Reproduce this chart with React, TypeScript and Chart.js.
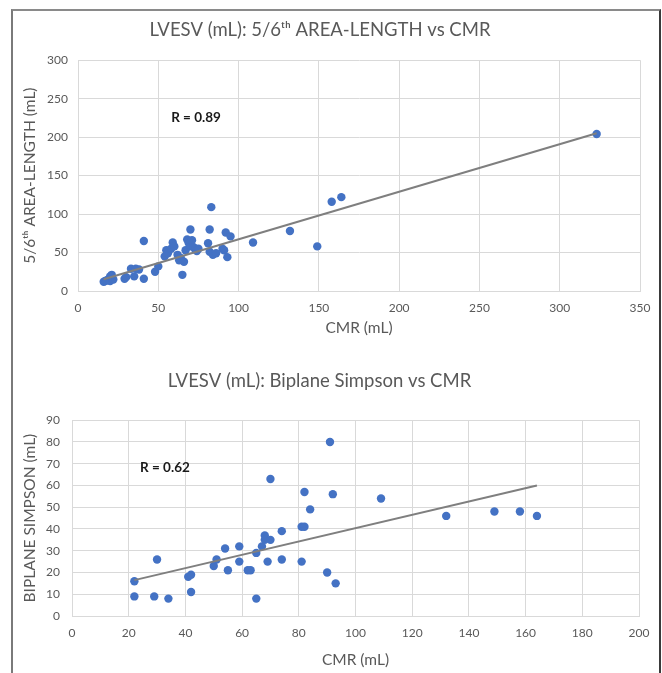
import React, { useEffect, useRef } from "react";
import { Chart, registerables } from "chart.js";

Chart.register(...registerables);

// LVESV by 5/6th area-length method vs CMR (mL)
const alCmr = [16, 17, 18, 19, 20, 21, 22, 21, 20, 29, 30, 33, 35, 38, 36, 41, 41, 48, 50, 54, 55, 56, 58, 59, 60, 62, 63, 64, 65, 66, 67, 68, 69, 70, 70, 71, 72, 73, 74, 75, 81, 82, 82, 83, 84, 86, 90, 91, 92, 93, 95, 109, 132, 149, 158, 164, 323];
const alEcho = [12, 13, 14, 15, 13, 17, 15, 21, 19, 16, 18, 29, 19, 28, 29, 16, 65, 25, 32, 45, 53, 49, 55, 63, 58, 47, 40, 43, 21, 38, 53, 67, 62, 80, 58, 66, 57, 54, 52, 55, 62, 80, 51, 109, 47, 49, 55, 53, 76, 44, 71, 63, 78, 58, 116, 122, 204];
const alTrendX = [16, 323];
const alTrendY = [15.3, 205];
const alR = "R = 0.89";

// LVESV by biplane Simpson method vs CMR (mL)
const bpCmr = [22, 22, 29, 30, 34, 41, 42, 42, 50, 51, 54, 55, 59, 59, 62, 63, 65, 65, 67, 68, 68, 70, 69, 70, 74, 74, 81, 82, 81, 82, 84, 90, 91, 92, 93, 109, 132, 149, 158, 164];
const bpEcho = [16, 9, 9, 26, 8, 18, 19, 11, 23, 26, 31, 21, 32, 25, 21, 21, 29, 8, 32, 37, 35, 35, 25, 63, 39, 26, 41, 41, 25, 57, 49, 20, 80, 56, 15, 54, 46, 48, 48, 46];
const bpTrendX = [22, 164];
const bpTrendY = [16.5, 60];
const bpR = "R = 0.62";

const FONT = "Lato, 'Open Sans', sans-serif";
const GREY_TEXT = "#595959";
const GRID = "#d9d9d9";
const DOT = "#4472C4";
const TREND = "#7f7f7f";

const zip = (xs: number[], ys: number[]) => xs.map((x, i) => ({ x, y: ys[i] }));

// Writes the correlation coefficient inside the plot at a data position
const rLabelPlugin = {
  id: "rLabel",
  afterDatasetsDraw(chart: any, _args: any, opts: any) {
    if (!opts || !opts.text) return;
    const { ctx, scales } = chart;
    const px = scales.x.getPixelForValue(opts.x);
    const py = scales.y.getPixelForValue(opts.y);
    ctx.save();
    ctx.font = `bold 13.5px ${FONT}`;
    ctx.fillStyle = "#1a1a1a";
    ctx.textAlign = "left";
    ctx.textBaseline = "middle";
    ctx.fillText(opts.text, px, py);
    ctx.restore();
  },
};

type Cfg = {
  title: string;
  xs: number[];
  ys: number[];
  tx: number[];
  ty: number[];
  xMax: number;
  xStep: number;
  yMax: number;
  yStep: number;
  yTitle: string;
  r: string;
  rx: number;
  ry: number;
  yWidth: number;
  xHeight: number;
  padRight: number;
  titlePadTop: number;
  titlePadBottom: number;
  xTitlePad: number;
  yTickPad: number;
  height: number;
};

function Plot({ cfg, top }: { cfg: Cfg; top: number }) {
  const ref = useRef<HTMLCanvasElement | null>(null);
  useEffect(() => {
    if (!ref.current) return;
    const chart = new Chart(ref.current, {
      type: "scatter",
      data: {
        datasets: [
          {
            data: zip(cfg.xs, cfg.ys),
            backgroundColor: DOT,
            borderColor: DOT,
            pointRadius: 4.2,
            pointBorderWidth: 0,
            showLine: false,
            order: 2,
          },
          {
            data: zip(cfg.tx, cfg.ty),
            borderColor: TREND,
            borderWidth: 2,
            pointRadius: 0,
            showLine: true,
            order: 1,
          },
        ],
      },
      options: {
        responsive: false,
        animation: false,
        devicePixelRatio: 1,
        layout: { padding: { left: 0, right: cfg.padRight, top: 0, bottom: 0 } },
        plugins: {
          legend: { display: false },
          tooltip: { enabled: false },
          title: {
            display: true,
            text: cfg.title,
            color: GREY_TEXT,
            font: { family: FONT, size: 18.5, weight: "normal" },
            padding: { top: cfg.titlePadTop, bottom: cfg.titlePadBottom },
          },
          rLabel: { text: cfg.r, x: cfg.rx, y: cfg.ry },
        } as any,
        scales: {
          x: {
            type: "linear",
            min: 0,
            max: cfg.xMax,
            ticks: {
              stepSize: cfg.xStep,
              color: GREY_TEXT,
              font: { family: FONT, size: 12 },
              padding: 10,
              maxRotation: 0,
            },
            grid: { color: GRID, drawTicks: false, lineWidth: 1 },
            border: { color: GRID },
            title: {
              display: true,
              text: "CMR (mL)",
              color: GREY_TEXT,
              font: { family: FONT, size: 15.5 },
              padding: { top: 0, bottom: cfg.xTitlePad },
            },
            afterFit(scale: any) {
              scale.height = cfg.xHeight;
            },
          },
          y: {
            type: "linear",
            min: 0,
            max: cfg.yMax,
            ticks: {
              stepSize: cfg.yStep,
              color: GREY_TEXT,
              font: { family: FONT, size: 12 },
              padding: cfg.yTickPad,
            },
            grid: { color: GRID, drawTicks: false, lineWidth: 1 },
            border: { color: GRID },
            title: {
              display: true,
              text: cfg.yTitle,
              color: GREY_TEXT,
              font: { family: FONT, size: 15.5 },
              padding: { top: 21, bottom: 0 },
            },
            afterFit(scale: any) {
              scale.width = cfg.yWidth;
            },
          },
        },
      } as any,
      plugins: [rLabelPlugin],
    });
    return () => chart.destroy();
  }, [cfg]);
  return (
    <canvas
      ref={ref}
      width={662}
      height={cfg.height}
      style={{ position: "absolute", left: 0, top, width: 662, height: cfg.height }}
    />
  );
}

const topCfg: Cfg = {
  title: "LVESV (mL): 5/6\u1D57\u02B0 AREA-LENGTH vs CMR",
  xs: alCmr,
  ys: alEcho,
  tx: alTrendX,
  ty: alTrendY,
  xMax: 350,
  xStep: 50,
  yMax: 300,
  yStep: 50,
  yTitle: "5/6\u1D57\u02B0 AREA-LENGTH (mL)",
  r: alR,
  rx: 58,
  ry: 225,
  yWidth: 78,
  xHeight: 54,
  padRight: 22,
  titlePadTop: 19,
  titlePadBottom: 19,
  xTitlePad: 8,
  yTickPad: 10,
  height: 345,
};

const bottomCfg: Cfg = {
  title: "LVESV (mL): Biplane Simpson vs CMR",
  xs: bpCmr,
  ys: bpEcho,
  tx: bpTrendX,
  ty: bpTrendY,
  xMax: 200,
  xStep: 20,
  yMax: 90,
  yStep: 10,
  yTitle: "BIPLANE SIMPSON (mL)",
  r: bpR,
  rx: 24,
  ry: 68,
  yWidth: 72,
  xHeight: 57,
  padRight: 23,
  titlePadTop: 25,
  titlePadBottom: 28,
  xTitlePad: 4,
  yTickPad: 12,
  height: 328,
};

export default function App() {
  return (
    <div
      style={{
        position: "absolute",
        left: 0,
        top: 0,
        width: 662,
        height: 673,
        overflow: "hidden",
        background: "#ffffff",
      }}
    >
      <div
        style={{
          position: "absolute",
          left: 11,
          top: 9,
          width: 646,
          height: 700,
          borderTop: "2px solid #8a8a8a",
          borderLeft: "2px solid #7a7a7a",
          borderRight: "2px solid #3a3a3a",
        }}
      />
      <Plot cfg={topCfg} top={0} />
      <Plot cfg={bottomCfg} top={345} />
    </div>
  );
}
